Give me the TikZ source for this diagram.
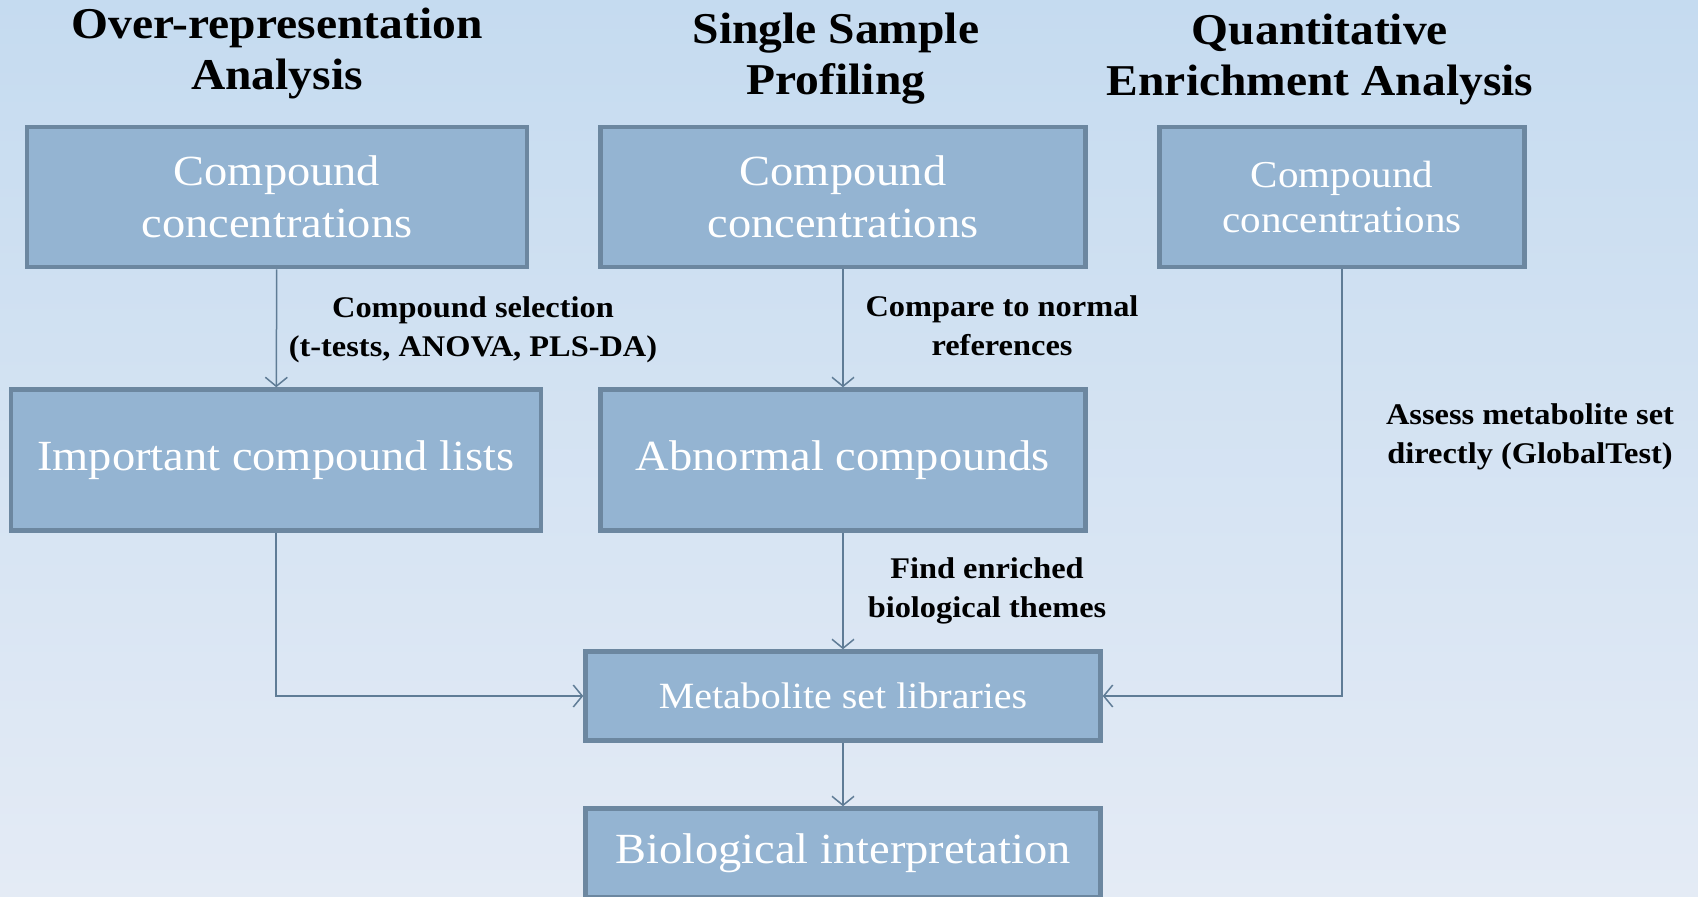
\documentclass[tikz,border=0pt]{standalone}
\usepackage{fontspec}
\setmainfont[FakeStretch=1.08]{Liberation Serif}
\usetikzlibrary{arrows.meta,positioning}

\definecolor{bgtop}{RGB}{197,219,240}
\definecolor{bgbot}{RGB}{228,235,245}
\definecolor{boxfill}{RGB}{148,180,210}
\definecolor{boxline}{RGB}{108,135,160}
\definecolor{flowline}{RGB}{95,124,150}

\begin{document}
\begin{tikzpicture}[x=1pt, y=-1pt]

	\tikzstyle{caja}=[rectangle, draw=boxline, fill=boxfill, line width=4.5pt, text=white, align=center, inner sep=0pt, font=\fontsize{43}{52}\selectfont]
	\tikzstyle{titulo}=[align=center, font=\fontsize{44}{51}\selectfont\bfseries]
	\tikzstyle{etiqueta}=[align=center, font=\fontsize{30}{39}\selectfont\bfseries]
	\tikzstyle{flecha}=[draw=flowline, line width=1.5pt, -{Straight Barb[length=9pt, width=22pt]}]

	\clip (0,0) rectangle (1698,897);
	\shade[top color=bgtop, bottom color=bgbot] (0,0) rectangle (1698,897);

	\coordinate (t_1) at (277, 53); % TITULOS
	\coordinate (t_2) at (836, 59); % TITULOS
	\coordinate (t_3) at (1320, 59); % TITULOS

	\coordinate (c_1) at (277, 197); % FILA 1
	\coordinate (c_2) at (843, 197); % FILA 1
	\coordinate (c_3) at (1342, 197); % FILA 1
	\coordinate (r_1) at (276, 460); % FILA 2
	\coordinate (r_2) at (843, 460); % FILA 2
	\coordinate (m) at (843, 696); % LIBRERIAS
	\coordinate (b) at (843, 853); % INTERPRETACION

	\node[titulo] (t_1) at (t_1) {Over-representation\\Analysis};
	\node[titulo] (t_2) at (t_2) {Single Sample\\Profiling};
	\node[titulo] (t_3) at (t_3) {Quantitative\\Enrichment Analysis};

	\node[caja, minimum width=500pt, minimum height=140pt] (c_1) at (c_1) {Compound\\concentrations};
	\node[caja, minimum width=485pt, minimum height=140pt] (c_2) at (c_2) {Compound\\concentrations};
	\node[caja, minimum width=365pt, minimum height=140pt, font=\fontsize{38}{45}\selectfont] (c_3) at (c_3) {Compound\\concentrations};
	\node[caja, minimum width=530pt, minimum height=141pt] (r_1) at (r_1) {Important compound lists};
	\node[caja, minimum width=485pt, minimum height=141pt] (r_2) at (r_2) {Abnormal compounds};
	\node[caja, minimum width=515pt, minimum height=89pt, font=\fontsize{37}{45}\selectfont] (m) at (m) {Metabolite set libraries};
	\node[caja, minimum width=515pt, minimum height=89pt] (b) at (b) {Biological interpretation};

	\draw[flecha] (c_1) -- (r_1);
	\draw[flecha] (c_2) -- (r_2);
	\draw[flecha] (r_2) -- (m);
	\draw[flecha] (r_1.south) |- (m.west);
	\draw[flecha] (c_3.south) |- (m.east);
	\draw[flecha] (m) -- (b);

	\node[etiqueta] (e_1) at (473, 330) {Compound selection\\(t-tests, ANOVA, PLS-DA)};
	\node[etiqueta] (e_2) at (1002, 326) {Compare to normal\\references};
	\node[etiqueta] (e_3) at (1530, 437) {Assess metabolite set\\directly (GlobalTest)};
	\node[etiqueta] (e_4) at (987, 591) {Find enriched\\biological themes};

\end{tikzpicture}
\end{document}
